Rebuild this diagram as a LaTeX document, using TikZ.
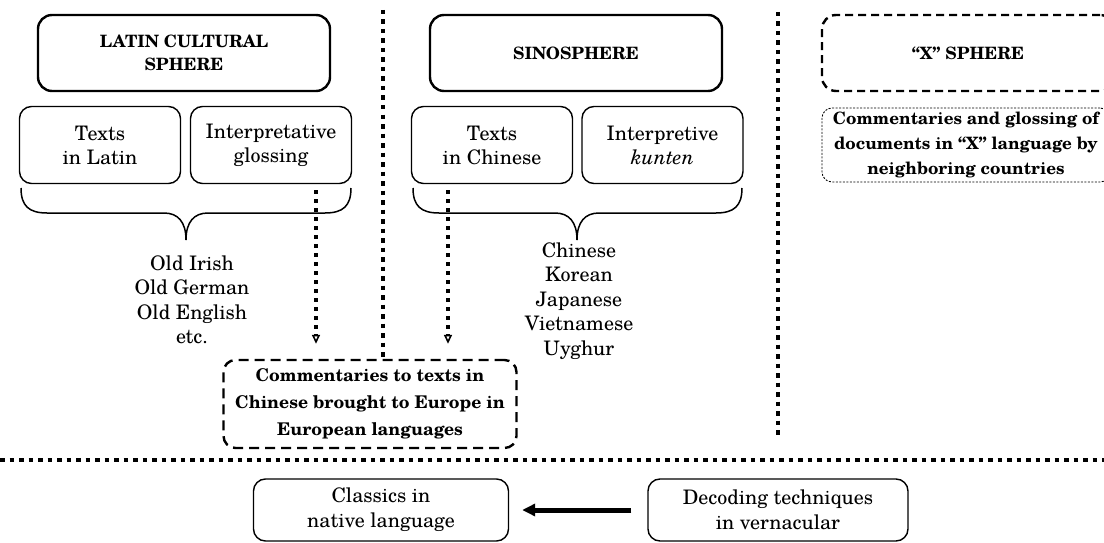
\documentclass[tikz,border=0pt]{standalone}
\usepackage{fontspec}
\setmainfont{texgyreschola}[Extension=.otf, UprightFont=*-regular, BoldFont=*-bold,
  ItalicFont=*-italic, BoldItalicFont=*-bolditalic]
\usetikzlibrary{arrows.meta,positioning}

\begin{document}
\begin{tikzpicture}[
    x=1pt, y=-1pt,
    font=\fontsize{20}{24}\selectfont,
    sphere/.style={rectangle, draw, rounded corners=14pt, line width=2.4pt,
                minimum width=292pt, minimum height=76pt, align=center,
                font=\fontsize{17}{23}\selectfont\bfseries},
    xsphere/.style={sphere, dash pattern=on 8pt off 5pt},
    sub/.style={rectangle, draw, rounded corners=12pt, line width=1.4pt,
                minimum width=161pt, minimum height=77pt, align=center},
    comm/.style={rectangle, draw, rounded corners=12pt, line width=2.4pt,
                dash pattern=on 10pt off 6pt, minimum width=293pt, minimum height=88pt,
                inner xsep=0pt, align=center, font=\fontsize{17.5}{27}\selectfont\bfseries},
    xcomm/.style={rectangle, draw, rounded corners=10pt, line width=0.9pt,
                dash pattern=on 2pt off 1.5pt, minimum width=288pt, minimum height=74pt,
                inner xsep=0pt, align=center, font=\fontsize{17}{25}\selectfont\bfseries},
    bottombox/.style={rectangle, draw, rounded corners=12pt, line width=1.4pt,
                minimum height=62pt, align=center, font=\fontsize{20}{25}\selectfont},
    langs/.style={align=center, font=\fontsize{20}{24.5}\selectfont},
    brace/.style={line width=1.5pt},
    divider/.style={line width=4.5pt, dash pattern=on 4.5pt off 5pt},
    dotarrow/.style={line width=4pt, dash pattern=on 4pt off 5pt,
                -{Triangle[open, length=9pt, width=8pt, line width=1.6pt]}},
    bigarrow/.style={line width=5pt, -{Triangle[length=13pt, width=12pt]}}
]
\useasboundingbox (0,0) rectangle (1104,543);

% top row
\node[sphere] (latin) at (184,53) {LATIN CULTURAL\\SPHERE};
\node[sphere] (sino) at (576,53) {SINOSPHERE};
\node[xsphere] (xsph) at (968,53) {``X'' SPHERE};

\node[sub] (ltexts) at (100,145) {Texts\\in Latin};
\node[sub] (lgloss) at (271,145) {Interpretative\\glossing};
\node[sub] (ctexts) at (492,145) {Texts\\in Chinese};
\node[sub] (ckunten) at (662.5,145) {Interpretive\\\textit{kunten}};
\node[xcomm] (xcomm) at (966,145) {Commentaries and glossing of\\documents in ``X'' language by\\neighboring countries};

% braces
\draw[brace] (21,188) .. controls (21,206) and (29,213) .. (47,213) -- (164,213)
    .. controls (178,213) and (186,222) .. (186,240)
    .. controls (186,222) and (194,213) .. (208,213) -- (325,213)
    .. controls (343,213) and (351,206) .. (351,188);
\draw[brace] (413,188) .. controls (413,206) and (421,213) .. (439,213) -- (555,213)
    .. controls (569,213) and (577,222) .. (577,240)
    .. controls (577,222) and (585,213) .. (599,213) -- (716,213)
    .. controls (734,213) and (742,206) .. (742,188);

\node[langs] (llangs) at (192,300) {Old Irish\\Old German\\Old English\\etc.};
\node[langs] (clangs) at (579,301) {Chinese\\Korean\\Japanese\\Vietnamese\\Uyghur};

\node[comm] (europe) at (370,404) {Commentaries to texts in\\Chinese brought to Europe in\\European languages};

% dividers
\coordinate (d1) at (383,10);
\coordinate (d2) at (778,12);
\coordinate (d2end) at (778,437);
\coordinate (hl) at (0,460);
\coordinate (hr) at (1104,460);
\draw[divider] (d1) -- (d1 |- europe.north);
\draw[divider] (d2) -- (d2end);
\draw[divider] (hl) -- (hr);

\coordinate (a1) at (316,190);
\coordinate (a2) at (448,190);
\draw[dotarrow, shorten >=15pt] (a1) -- (a1 |- europe.north);
\draw[dotarrow, shorten >=15pt] (a2) -- (a2 |- europe.north);

% bottom row
\node[bottombox, minimum width=255pt] (classics) at (381,510) {Classics in\\native language};
\node[bottombox, minimum width=260pt] (decoding) at (778,510) {Decoding techniques\\in vernacular};
\draw[bigarrow, shorten <=16pt, shorten >=13pt] (decoding) -- (classics);
\end{tikzpicture}
\end{document}
